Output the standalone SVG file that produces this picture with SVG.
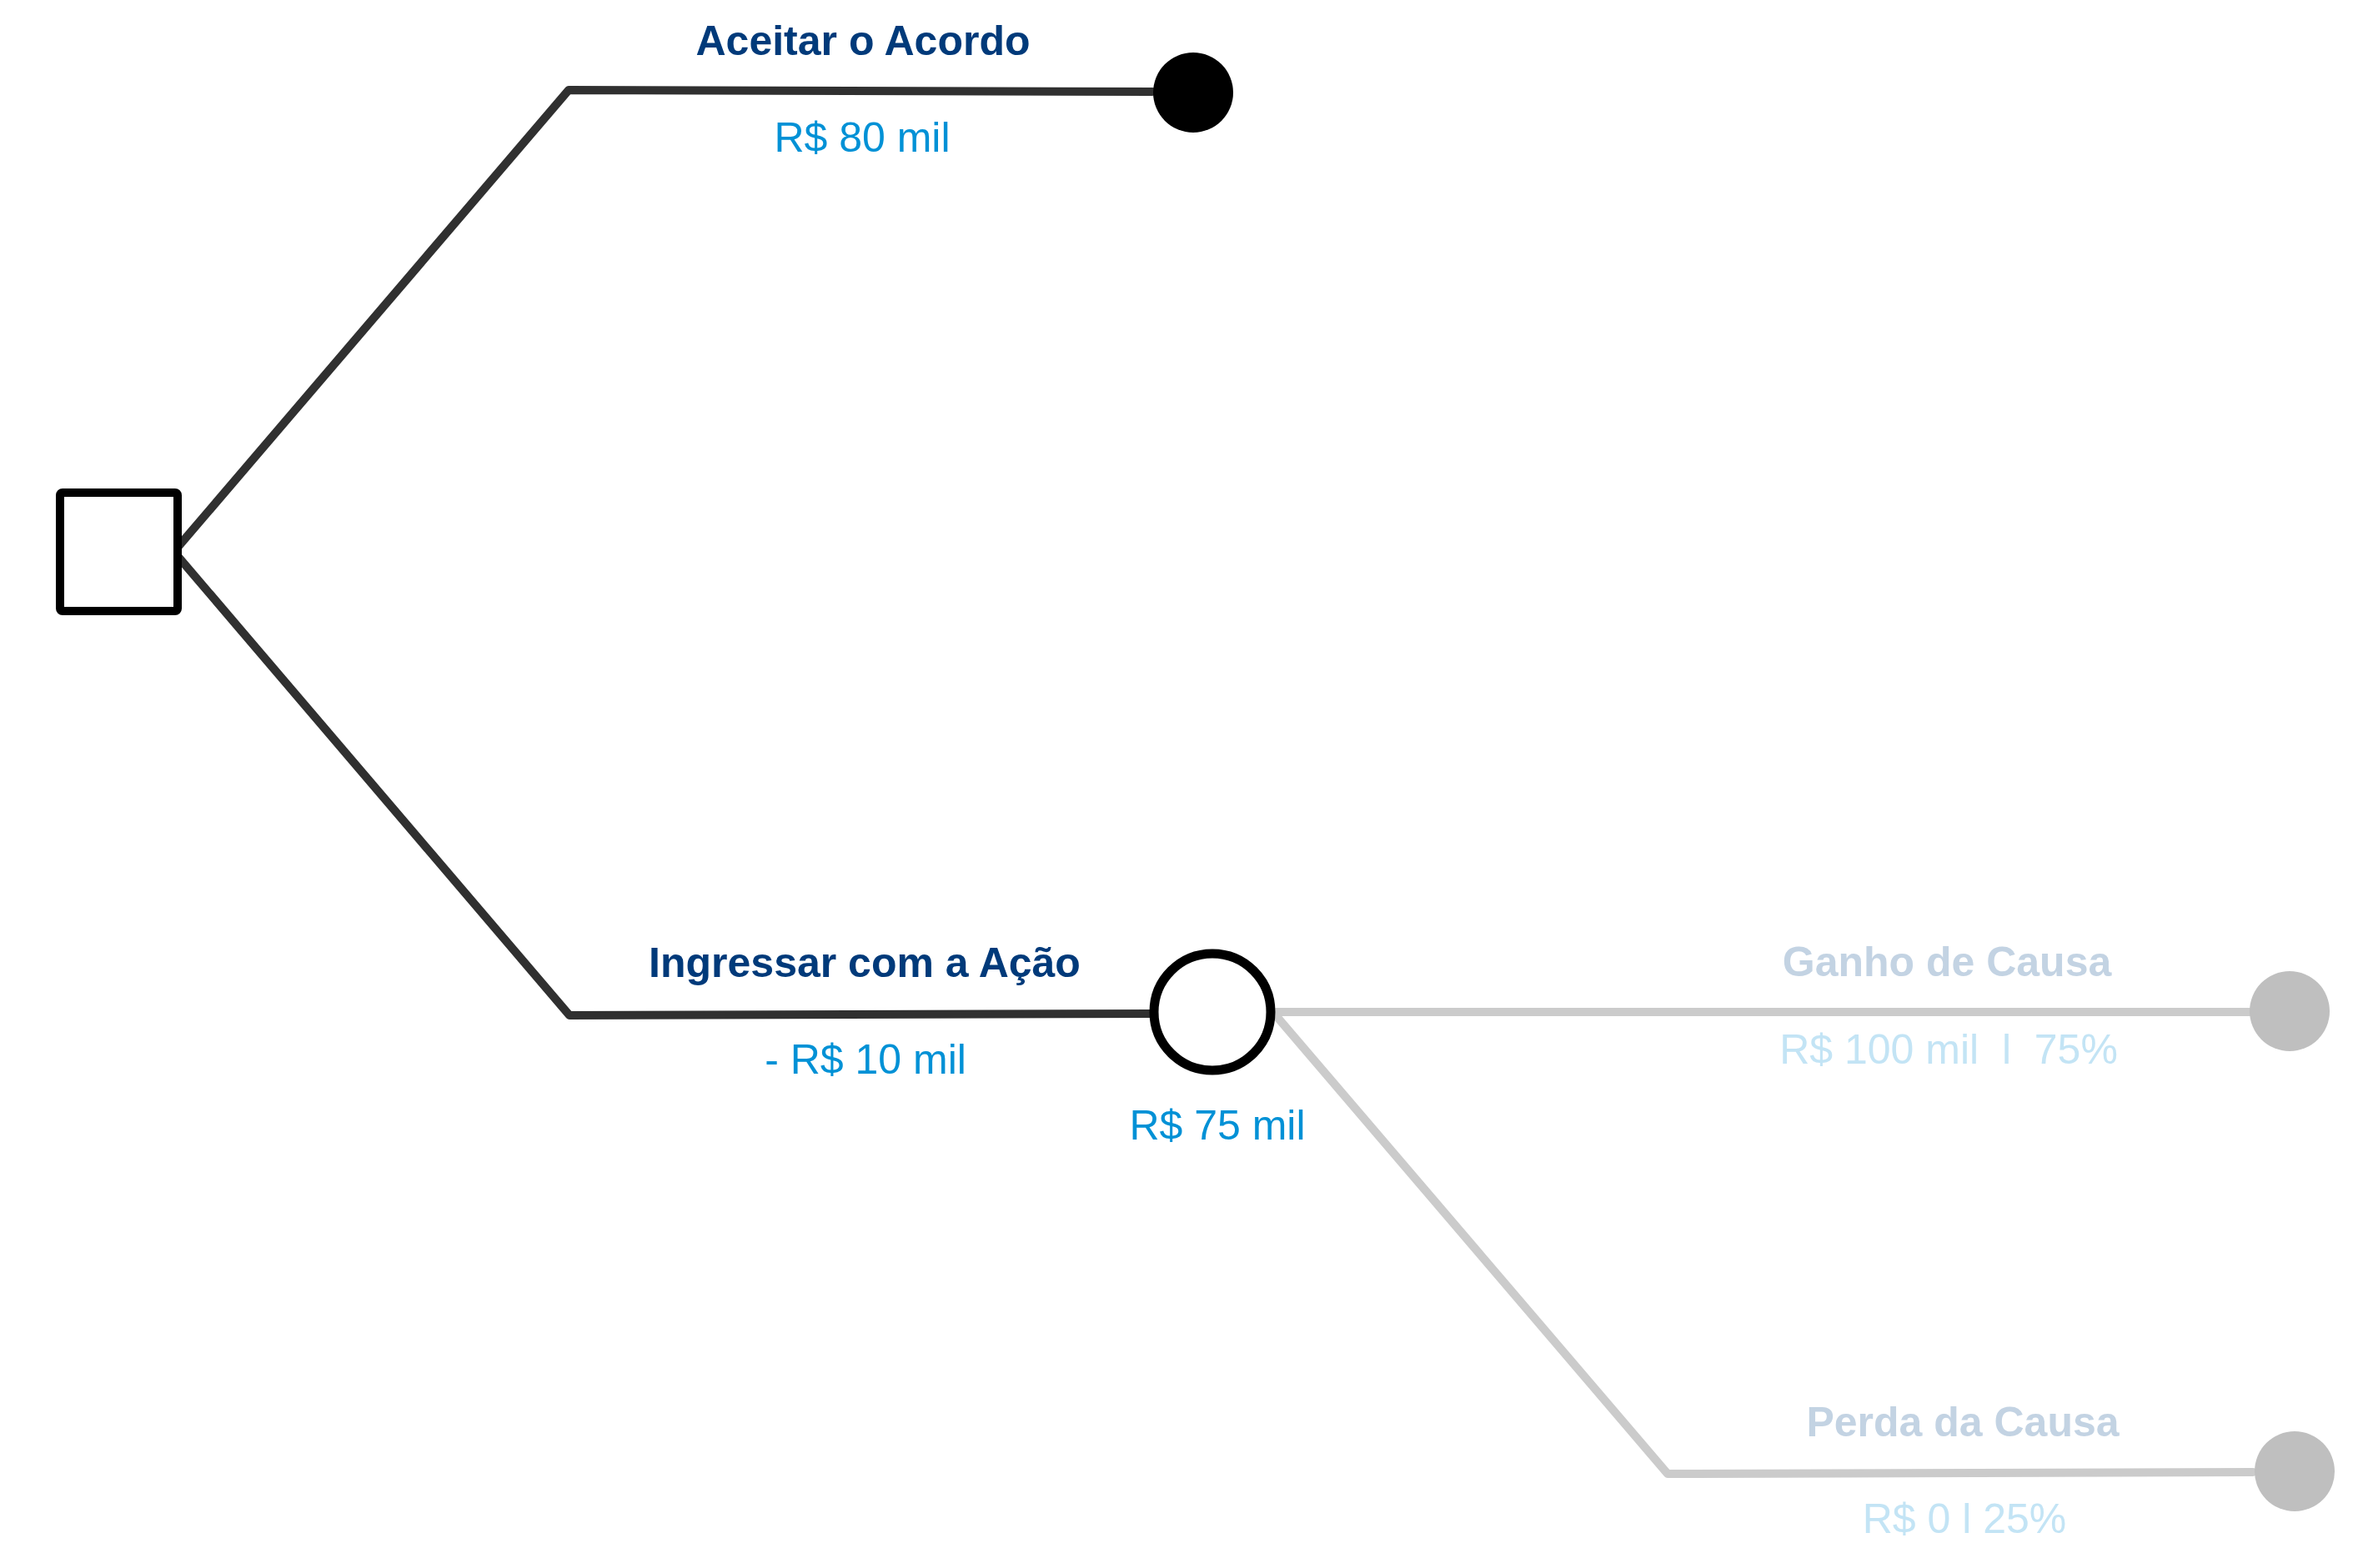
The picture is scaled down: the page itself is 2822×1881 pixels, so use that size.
<svg xmlns="http://www.w3.org/2000/svg" width="2822" height="1881" viewBox="0 0 2822 1881">
<style>
.t{font-family:"Liberation Sans",Arial,sans-serif;font-size:50px;text-anchor:middle}
.b{font-weight:bold}
.dk{fill:#003a7a}
.bl{fill:#0091d6}
.pdk{fill:#c3d3e3}
.pbl{fill:#c3e4f5}
.cd{fill:none;stroke:#303030;stroke-width:10;stroke-linecap:round;stroke-linejoin:round}
.cg{fill:none;stroke:#cbcbcb;stroke-width:10;stroke-linecap:round;stroke-linejoin:round}
</style>
<rect width="2822" height="1881" fill="#ffffff"/>
<g id="connectors">
<polyline class="cd" points="211,659 682,108 1382,110"/>
<polyline class="cd" points="213,667 683,1218 1382,1216"/>
<polyline class="cg" points="1530,1214 2700,1214"/>
<polyline class="cg" points="1530,1218 2000,1768 2702,1766"/>
</g>
<g id="decision">
<rect x="72" y="591" width="141" height="142" rx="3" fill="#ffffff" stroke="#000000" stroke-width="10"/>
</g>
<g id="end-acordo">
<circle cx="1431" cy="111" r="48" fill="#000000"/>
</g>
<g id="chance">
<circle cx="1454" cy="1214" r="70" fill="#ffffff" stroke="#000000" stroke-width="11"/>
</g>
<g id="end-ganho">
<circle cx="2746" cy="1213" r="48" fill="#bfbfbf"/>
</g>
<g id="end-perda">
<circle cx="2752" cy="1765" r="48" fill="#bfbfbf"/>
</g>
<g id="labels">
<text class="t b dk" x="1035" y="66">Aceitar o Acordo</text>
<text class="t bl" x="1034" y="182">R$ 80 mil</text>
<text class="t b dk" x="1037" y="1172">Ingressar com a Ação</text>
<text class="t bl" x="1038" y="1288">- R$ 10 mil</text>
<text class="t bl" x="1460" y="1367">R$ 75 mil</text>
<text class="t b pdk" x="2335" y="1171">Ganho de Causa</text>
<text class="t pbl" x="2337" y="1276" xml:space="preserve">R$ 100 mil  l  75%</text>
<text class="t b pdk" x="2354" y="1723">Perda da Causa</text>
<text class="t pbl" x="2356" y="1839">R$ 0 l 25%</text>
</g>
</svg>
